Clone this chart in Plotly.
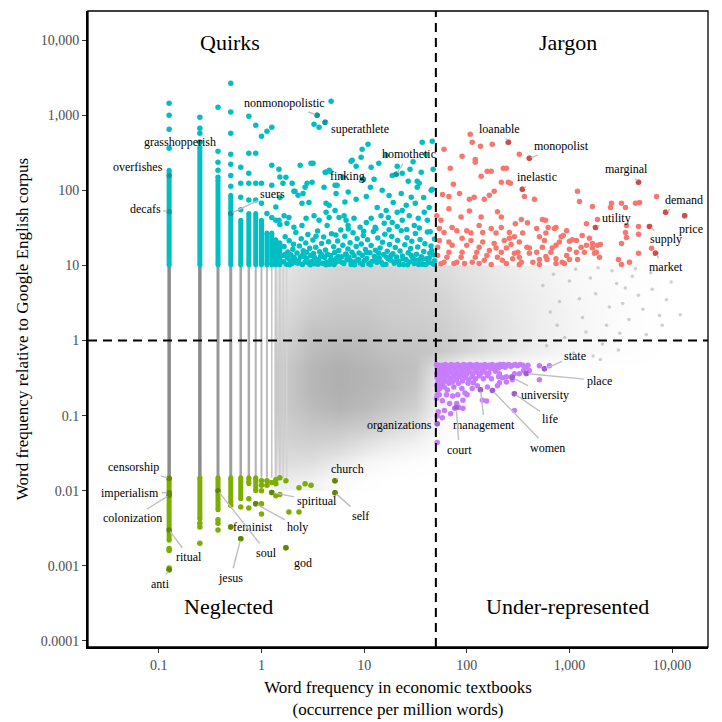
import numpy as np
import plotly.graph_objects as go

# ---------------- data ----------------
X_THRESH = 50        # textbook frequency threshold (per million words)
Y_HIGH = 10          # relative frequency thresholds
Y_MID = 1
Y_LOW_GREEN = 0.0149

# discrete low-count columns (occurrence per million words)
COLUMN_X = [0.126, 0.251, 0.377, 0.502, 0.628, 0.753, 0.879, 1.0, 1.13, 1.26, 1.38, 1.51, 1.63, 1.76]

# cyan (Quirks) continuous column segments: top of each segment
QUIRKS_COL_X = [0.126, 0.251, 0.377, 0.502, 0.628, 0.753, 0.879, 1.0, 1.13, 1.26, 1.38, 1.51]
QUIRKS_COL_TOP = [185, 374, 136, 86, 40, 49, 49, 40, 27, 27, 22, 20]

# green (Neglected) continuous column segments: bottom of each segment
NEGLECT_COL_X = [0.126, 0.251, 0.377, 0.502, 0.628, 0.753, 0.879]
NEGLECT_COL_BOTTOM = [0.0022, 0.0042, 0.0056, 0.0069, 0.0078, 0.0124, 0.010]

QUIRKS_PTS = [
    (0.126, 363), (0.126, 650), (0.126, 1000), (0.126, 1445),
    (0.251, 437), (0.251, 575), (0.251, 670), (0.251, 940),
    (0.377, 149), (0.377, 185), (0.377, 236), (0.377, 331), (0.377, 1280),
    (0.502, 113), (0.502, 158), (0.502, 222), (0.502, 302), (0.502, 575), (0.502, 1100), (0.502, 2670),
    (0.628, 55), (0.628, 81), (0.628, 124), (0.628, 203),
    (0.753, 74), (0.753, 124), (0.753, 169), (0.753, 311), (0.753, 970),
    (0.879, 74), (0.879, 124), (0.879, 311), (0.879, 736),
    (1.0, 67), (1.0, 124), (1.0, 525), (1.13, 49), (1.13, 612),
    (1.26, 117), (1.26, 215), (1.26, 690), (1.38, 40), (1.38, 60),
    (1.51, 35), (1.51, 80), (1.51, 150),
    (4.77, 1538), (3.25, 759), (3.64, 692), (3.48, 1000), (4.17, 807), (10.9, 410), (9.56, 352),
    (36.8, 437), (46.1, 450), (16.4, 293), (7.47, 244), (8.36, 209), (11.7, 203), (36.0, 174),
    (32.9, 132), (46.1, 103), (2.38, 215), (3.04, 229), (3.18, 229), (1.48, 191), (4.17, 174),
    (4.66, 179), (5.45, 117), (1.73, 149), (1.62, 124), (1.99, 124), (2.12, 97), (21.0, 209),
    (18.8, 158), (23.5, 169), (9.35, 275), (20.5, 163), (9.8, 140),
    (2.78, 124), (3.11, 128), (2.66, 110), (2.07, 97), (2.27, 86), (2.54, 91), (2.48, 67),
    (2.9, 69), (4.26, 174), (4.56, 185), (4.07, 110), (5.21, 117), (5.33, 91), (4.26, 67),
    (4.56, 63), (7.64, 251), (8.36, 76), (10.5, 83), (15, 100), (19.2, 69), (23, 91),
    (26.9, 132), (34.4, 124), (32.9, 110), (28.8, 81), (31.5, 67), (45, 100), (43, 59),
    (11.5, 110), (13.4, 59), (16.4, 54), (23.5, 54), (25.7, 63),
    (13.9, 230), (6.2, 150), (7.0, 95), (12.5, 140), (40, 300), (28, 190), (17.5, 85),
    (6.5, 70), (38, 80), (47, 190), (30, 240),
    (1.26, 43.6), (1.48, 40), (1.66, 46), (1.85, 43.6), (1.77, 36.3), (2.07, 32.1), (2.48, 34.1),
    (2.72, 42.4), (3.25, 46), (3.64, 40), (4.26, 51), (4.56, 43.6), (4.36, 34.1), (5.21, 54),
    (5.7, 43.6), (6.38, 46), (6.67, 40), (6.98, 34.1), (7.97, 42.4), (9.14, 32.1), (10.5, 37.4),
    (11.7, 42.4), (12.8, 32.1), (14.6, 46), (15.7, 36.3), (17.2, 43.6), (18.8, 37.4), (21, 51),
    (23.5, 40), (27.5, 46), (30.8, 34.1), (33.7, 42.4), (38.5, 51), (41.3, 40),
    (1.64, 11.2), (1.64, 13.5), (1.66, 17.8), (1.7, 24), (1.75, 10.4), (1.79, 12.6), (1.81, 15.1),
    (1.86, 21.3), (1.9, 11.7), (1.93, 13.9), (1.98, 10.6), (2.02, 16.4), (2.05, 19.2), (2.1, 12.2),
    (2.16, 27.5), (2.18, 10.9), (2.22, 14.6), (2.3, 11.5), (2.34, 18.1), (2.39, 12.9), (2.44, 22.6),
    (2.5, 10.3), (2.55, 15.7), (2.61, 13.1), (2.66, 11.1), (2.7, 19.9), (2.77, 12.4), (2.83, 25.8),
    (2.88, 10.8), (2.95, 16.9), (3.02, 13.6), (3.08, 11.3), (3.17, 21.8), (3.22, 14.4), (3.29, 10.5),
    (3.38, 17.4), (3.45, 12.0), (3.52, 28.8), (3.6, 11.6), (3.68, 15.2), (3.77, 13.2), (3.85, 19.6),
    (3.93, 10.7), (4.03, 23.9), (4.11, 12.7), (4.2, 16.1), (4.3, 11.0), (4.41, 14.0), (4.5, 20.6),
    (4.6, 10.4), (4.72, 13.5), (4.81, 26.4), (4.93, 11.8), (5.05, 17.7), (5.16, 14.9), (5.28, 10.9),
    (5.4, 12.5), (5.52, 21.1), (5.66, 15.8), (5.79, 11.4), (5.93, 29.5), (6.06, 13.0), (6.2, 18.6),
    (6.35, 10.6), (6.49, 24.5), (6.62, 14.2), (6.8, 11.9), (6.95, 16.6), (7.11, 12.8), (7.3, 20.0),
    (7.46, 10.3), (7.62, 15.0), (7.8, 27.2), (7.98, 13.4), (8.15, 11.2), (8.37, 17.9), (8.55, 22.7),
    (8.72, 12.1), (8.93, 14.6), (9.15, 10.8), (9.38, 19.3), (9.6, 13.7), (9.82, 25.1), (10.1, 11.6),
    (10.3, 16.3), (10.6, 12.4), (10.8, 21.9), (11.1, 10.5), (11.4, 14.8), (11.7, 18.4), (11.9, 11.3),
    (12.3, 28.2), (12.6, 13.2), (12.9, 15.9), (13.3, 10.9), (13.6, 23.1), (14.0, 12.6), (14.3, 17.1),
    (14.7, 11.0), (15.1, 20.4), (15.5, 13.9), (15.9, 26.0), (16.3, 10.4), (16.8, 15.4), (17.2, 12.2),
    (17.7, 19.0), (18.1, 11.7), (18.6, 24.2), (19.1, 14.3), (19.6, 10.7), (20.1, 17.3), (20.7, 12.9),
    (21.2, 21.5), (21.8, 11.4), (22.4, 15.6), (23.0, 29.0), (23.6, 13.3), (24.2, 10.3), (24.9, 18.8),
    (25.5, 12.0), (26.2, 23.3), (26.9, 14.7), (27.6, 11.1), (28.4, 16.8), (29.1, 20.9), (29.9, 12.5),
    (30.7, 10.6), (31.6, 26.7), (32.4, 14.1), (33.3, 17.6), (34.2, 11.8), (35.1, 22.1), (36.1, 13.0),
    (37.1, 10.4), (38.1, 15.3), (39.1, 19.5), (40.2, 12.3), (41.3, 27.9), (42.4, 11.0), (43.6, 14.5),
    (44.8, 18.2), (46.0, 10.8), (47.2, 13.8), (48.4, 22.4), (48.6, 11.5),
    (1.72, 14.2), (1.88, 10.2), (2.07, 12.8), (2.27, 10.7), (2.52, 13.8), (2.74, 15.0), (2.99, 10.2),
    (3.26, 12.9), (3.55, 10.4), (3.88, 13.9), (4.25, 10.2), (4.66, 11.6), (5.1, 10.3), (5.58, 13.1),
    (6.1, 10.9), (6.7, 13.7), (7.35, 11.5), (8.05, 10.2), (8.85, 11.9), (9.7, 10.3), (10.6, 14.9),
    (11.6, 10.2), (12.7, 11.7), (13.9, 14.5), (15.3, 10.3), (16.6, 12.8), (18.3, 13.6), (19.9, 11.2),
    (22.0, 10.3), (24.0, 12.3), (26.5, 10.2), (28.8, 13.5), (31.2, 11.8), (34.0, 10.3), (36.8, 12.1),
    (40.0, 10.3), (43.0, 12.6), (45.5, 15.8), (47.8, 10.4), (3.4, 24.5), (5.3, 25.5), (7.0, 30.5),
    (9.9, 28.4), (13.0, 31.0), (17.5, 29.8), (21.0, 33.0), (26.0, 30.0), (34.5, 31.6), (44.0, 28.0),
]

JARGON_PTS = [
    (108, 558), (113, 437), (136, 386), (177, 410), (60, 352), (90, 284), (121, 257), (121, 236),
    (325, 302), (254, 437), (407, 267), (69, 197), (158, 179), (173, 179), (227, 197), (243, 197),
    (138, 154), (217, 128), (254, 128), (266, 124), (74, 120), (348, 103), (185, 97), (58, 88),
    (67, 83), (85, 91), (106, 76), (118, 81), (148, 76), (166, 86), (364, 83), (456, 76),
    (1197, 97), (1254, 71), (2570, 67), (3215, 67), (4400, 67), (7060, 83), (4820, 69), (4710, 128),
    (1675, 61), (2510, 59), (3515, 59), (1465, 36), (1875, 41), (3600, 34), (4710, 33), (3515, 27.5),
    (3600, 23.6), (4710, 25.9), (3215, 19.6), (4710, 14.5), (3000, 12), (3845, 11), (3215, 10.3),
    (6310, 16.9), (6900, 14.5), (6030, 33), (8650, 51), (13250, 46), (1795, 32),
    (67, 57), (106, 53), (88, 44), (138, 44), (199, 52), (217, 44), (297, 36), (340, 41), (390, 37),
    (545, 41), (585, 40), (480, 31), (620, 32), (740, 32), (870, 25), (1070, 22), (1330, 25),
    (1567, 23), (1675, 19.6), (1875, 18.5), (2000, 19), (1675, 17), (1754, 14.5), (1465, 18.5),
    (1400, 15), (1170, 15), (1200, 12), (1000, 16.4), (940, 13.6), (850, 11), (740, 18.5), (680, 17),
    (660, 15), (590, 13.1), (740, 12.3), (545, 17.5), (480, 15), (510, 12), (407, 17), (385, 17.5),
    (407, 14.5), (440, 11), (315, 15), (325, 12.8), (291, 14.5), (340, 11), (270, 19), (243, 17),
    (217, 15), (222, 11.7), (199, 12.8), (185, 19.6), (166, 15.8), (157, 13.6), (148, 11.7),
    (132, 17.5), (125, 15), (121, 12.8), (113, 11), (110, 21.5), (100, 18.5), (90, 15), (88, 12.8),
    (80, 11), (72, 18.5), (67, 15), (64, 12.8), (60, 11), (54, 21.5), (52, 17.5), (52, 13.6), (56, 10.5),
    (51, 46), (56, 40), (54, 31), (60, 27.5), (72, 32), (80, 29), (100, 29), (110, 27), (132, 34),
    (143, 27.5), (173, 31), (193, 27), (217, 32), (260, 27.5), (291, 24), (350, 27), (510, 24),
    (590, 27), (714, 31), (830, 24), (940, 29), (260, 23), (143, 20.5), (232, 21.5), (325, 20.5),
    (571, 21.5), (798, 20.5), (1000, 21), (1170, 21.5), (1300, 17.5), (1830, 15), (1963, 12.8),
    (67, 20.5), (90, 23), (193, 17), (280, 12.3), (605, 12), (1000, 12), (740, 10.6), (243, 10.6),
    (132, 10.6), (75, 10.6), (95, 10.6), (173, 10.3), (325, 10.3), (510, 10.3), (893, 10.6),
]

UNDER_PTS = [
    (510, 0.46), (571, 0.42), (638, 0.46), (510, 0.30), (407, 0.40), (325, 0.36), (357, 0.40),
    (291, 0.36), (273, 0.33), (243, 0.33), (278, 0.30), (208, 0.36), (199, 0.25), (223, 0.32),
    (174, 0.31), (178, 0.216), (159, 0.24), (142, 0.16), (156, 0.157), (136, 0.222), (127, 0.25),
    (116, 0.275), (113, 0.23), (103, 0.27), (96.2, 0.20), (89.7, 0.23), (91.8, 0.16), (83.7, 0.128),
    (79.9, 0.145), (91.8, 0.125), (76.3, 0.125), (79, 0.128), (69.6, 0.106), (60.6, 0.117),
    (57.8, 0.094), (52.7, 0.113), (51.5, 0.099), (51.5, 0.078), (51.5, 0.044), (68, 0.145),
    (57.8, 0.158), (54, 0.19), (63.5, 0.19), (72.9, 0.183), (81.8, 0.19), (100.8, 0.19),
    (291, 0.196), (291, 0.117), (208, 0.275), (243, 0.28), (204, 0.33), (380, 0.363), (278, 0.321),
    (50.8, 0.48), (51.6, 0.44), (52.1, 0.40), (50.9, 0.36), (51.3, 0.32), (52.4, 0.28), (51.0, 0.25),
    (52.0, 0.22), (51.5, 0.19), (50.7, 0.17), (53.6, 0.47), (54.9, 0.42), (54.2, 0.37), (55.5, 0.33),
    (53.8, 0.29), (56.1, 0.26), (54.5, 0.23), (57.3, 0.47), (58.6, 0.41), (57.9, 0.35), (59.4, 0.31),
    (58.2, 0.27), (60.3, 0.24), (61.7, 0.48), (62.9, 0.43), (61.2, 0.38), (63.8, 0.34), (62.5, 0.29),
    (64.6, 0.22), (66.2, 0.46), (67.5, 0.40), (65.9, 0.36), (68.8, 0.31), (67.1, 0.27), (70.4, 0.48),
    (71.8, 0.44), (70.9, 0.38), (73.5, 0.33), (72.2, 0.28), (74.8, 0.24), (76.6, 0.47), (77.9, 0.41),
    (75.8, 0.35), (79.2, 0.30), (81.5, 0.48), (83.1, 0.43), (80.6, 0.37), (84.7, 0.33), (82.9, 0.27),
    (86.8, 0.46), (88.4, 0.40), (87.1, 0.34), (90.6, 0.29), (92.9, 0.48), (94.5, 0.43), (93.2, 0.37),
    (96.8, 0.32), (99.5, 0.47), (101.9, 0.41), (98.8, 0.35), (104.6, 0.30), (107.3, 0.48),
    (109.8, 0.44), (106.5, 0.38), (112.4, 0.33), (115.8, 0.47), (118.9, 0.42), (114.7, 0.36),
    (121.5, 0.31), (125.2, 0.48), (128.6, 0.43), (124.1, 0.38), (132.3, 0.34), (136.7, 0.47),
    (140.2, 0.41), (135.4, 0.36), (145.1, 0.31), (149.6, 0.48), (154.3, 0.44), (148.2, 0.38),
    (159.7, 0.34), (165.4, 0.47), (170.8, 0.42), (163.9, 0.37), (177.2, 0.48), (183.5, 0.44),
    (189.9, 0.39), (196.4, 0.47), (203.7, 0.43), (211.5, 0.48), (219.6, 0.45), (228.3, 0.48),
    (236.9, 0.44), (246.2, 0.47), (256.8, 0.48), (268.4, 0.45), (282.1, 0.47), (296.7, 0.48),
    (312.5, 0.46), (331.0, 0.48), (352.0, 0.47), (374.0, 0.44), (395.0, 0.47),
]

NEGLECT_PTS = [
    (0.126, 0.0017), (0.126, 0.0016), (0.126, 0.00094), (0.126, 0.00089),
    (0.251, 0.0037), (0.251, 0.0033), (0.251, 0.002),
    (0.377, 0.0041), (0.377, 0.0037), (0.377, 0.003),
    (0.502, 0.0064), (0.502, 0.0033), (0.628, 0.0061), (0.628, 0.0023),
    (0.753, 0.0078), (0.753, 0.0059), (0.879, 0.0067),
    (1.0, 0.0136), (1.0, 0.0118), (1.0, 0.010), (1.0, 0.0067), (1.0, 0.0049),
    (1.13, 0.0136), (1.13, 0.0118), (1.26, 0.0129), (1.26, 0.0095),
    (1.38, 0.014), (1.38, 0.0124), (1.38, 0.0086), (1.51, 0.0149), (1.51, 0.0089),
    (1.73, 0.0136), (1.73, 0.00174), (1.85, 0.0052), (2.32, 0.011), (2.32, 0.0052),
    (2.66, 0.0124), (3.04, 0.0118), (5.2, 0.0136), (5.2, 0.0094),
]

# sparse individual background words (visible as separate dots on the right)
OTHER_PTS = [
    (2880, 5.75), (7550, 2.15), (1340, 2.03), (1800, 4.2), (2300, 1.6), (3300, 3.1), (4100, 7.2),
    (5200, 2.6), (6400, 4.8), (2600, 8.5), (1600, 6.8), (1150, 8.9), (1450, 1.3), (3800, 1.9),
    (4700, 4.0), (3000, 0.75), (2100, 0.9), (1700, 0.62), (5600, 1.2), (8800, 3.5), (9800, 6.0),
    (1250, 3.6), (2450, 2.8), (3500, 5.0), (900, 1.1), (1000, 6.2), (800, 3.3), (700, 7.6),
    (650, 2.4), (1100, 0.68), (600, 0.85), (550, 5.4), (760, 1.6), (1900, 9.3), (4400, 9.0),
    (6200, 8.0), (2000, 0.56), (3100, 1.25), (8000, 1.6), (12000, 2.2),
]

# labelled words
LABEL_WORDS = ["nonmonopolistic", "superathlete", "homothetic", "finking", "suers", "overfishes",
               "decafs", "grasshopperish",
               "loanable", "monopolist", "inelastic", "marginal", "demand", "price", "supply",
               "market", "utility",
               "state", "place", "university", "life", "women", "management", "court", "organizations",
               "censorship", "imperialism", "colonization", "ritual", "anti", "feminist", "jesus",
               "soul", "holy", "spiritual", "god", "church", "self"]
LABEL_X = [3.48, 4.17, 20.5, 9.8, 0.502, 0.126, 0.126, 0.251,
           254, 407, 348, 4710, 8650, 13250, 6030, 6900, 1795,
           571, 380, 278, 291, 178, 136, 79, 51.5,
           0.126, 0.126, 0.126, 0.126, 0.126, 0.502, 0.628, 0.377, 0.879, 1.26, 1.73, 5.2, 5.2]
LABEL_Y = [1000, 807, 163, 140, 49, 158, 52, 437,
           437, 267, 103, 128, 51, 46, 33, 14.5, 32,
           0.42, 0.363, 0.321, 0.196, 0.216, 0.222, 0.128, 0.078,
           0.0146, 0.0094, 0.0087, 0.003, 0.00089, 0.0033, 0.0023, 0.010, 0.0067, 0.0095,
           0.00174, 0.0136, 0.0094]
LABEL_GROUP = ["q"] * 8 + ["j"] * 9 + ["u"] * 8 + ["n"] * 13

# background cloud of all other words: density estimate on a log10 grid
CLOUD_LOGX = [0.25, 0.5, 0.75, 1.0, 1.25, 1.5, 1.75, 2.0, 2.25, 2.5, 2.75, 3.0, 3.25, 3.5, 3.75, 4.0]
CLOUD_LOGY = [-1.875, -1.625, -1.375, -1.125, -0.875, -0.625, -0.375, -0.125, 0.125, 0.375, 0.625, 0.875]
CLOUD_DENSITY = [
    [1.5, 1.2, 0.4, 0.1, 0, 0, 0, 0, 0, 0, 0, 0, 0, 0, 0, 0],
    [3.0, 2.8, 1.8, 0.8, 0.4, 0.2, 0, 0, 0, 0, 0, 0, 0, 0, 0, 0],
    [4.0, 4.2, 3.8, 2.8, 1.8, 1.2, 0.2, 0, 0, 0, 0, 0, 0, 0, 0, 0],
    [4.5, 5.2, 5.3, 4.8, 3.8, 2.8, 0.4, 0, 0, 0, 0, 0, 0, 0, 0, 0],
    [5.0, 6.2, 6.8, 6.3, 5.3, 4.3, 0.8, 0, 0, 0, 0, 0, 0, 0, 0, 0],
    [5.0, 6.6, 7.2, 6.8, 6.2, 5.2, 1.2, 0, 0, 0, 0, 0, 0, 0, 0, 0],
    [5.0, 6.6, 7.2, 6.8, 6.2, 5.6, 2.0, 0.3, 0, 0, 0, 0, 0, 0, 0, 0],
    [4.5, 6.0, 6.5, 6.2, 5.6, 5.4, 5.0, 3.8, 2.8, 2.0, 1.3, 0.8, 0.5, 0.2, 0.1, 0],
    [4.0, 5.5, 5.6, 5.6, 5.0, 4.8, 4.5, 3.8, 2.8, 2.2, 1.5, 1.0, 0.6, 0.3, 0.1, 0],
    [3.5, 4.6, 5.0, 5.0, 4.6, 4.4, 4.2, 3.4, 2.7, 2.0, 1.5, 1.0, 0.6, 0.3, 0.1, 0],
    [3.0, 4.0, 4.5, 4.5, 4.4, 4.2, 3.8, 3.0, 2.4, 1.9, 1.4, 0.8, 0.5, 0.3, 0.1, 0],
    [2.6, 3.5, 4.0, 4.0, 4.0, 3.8, 3.3, 2.6, 2.1, 1.6, 1.2, 0.7, 0.4, 0.2, 0.1, 0],
]

X_TICKS = [0.1, 1, 10, 100, 1000, 10000]
X_TICK_TEXT = ["0.1", "1", "10", "100", "1,000", "10,000"]
Y_TICKS = [0.0001, 0.001, 0.01, 0.1, 1, 10, 100, 1000, 10000]
Y_TICK_TEXT = ["0.0001", "0.001", "0.01", "0.1", "1", "10", "100", "1,000", "10,000"]

# ---------------- styles ----------------
FONT = "Liberation Serif"
X_RANGE = [-1.69, 4.35]
Y_RANGE = [-4.08, 4.387]
C_Q, C_J, C_U, C_N = "#00BFC4", "#F8766D", "#C77CFF", "#7CAE00"
C_DARK = {"q": "#0a9a9e", "j": "#c9504a", "u": "#9c5fcc", "n": "#5d8800"}
COL_WIDTHS = [3.5, 3.5, 3, 3, 2.5, 2.5, 2, 2, 2, 1.5, 1.5, 1.5, 1.5, 1.5]
COL_COLORS = ["#8a8a8a", "#8c8c8c", "#979797", "#9d9d9d", "#a6a6a6", "#acacac", "#b3b3b3",
              "#b8b8b8", "#bdbdbd", "#c3c3c3", "#c7c7c7", "#cbcbcb", "#cfcfcf", "#d3d3d3"]
LABEL_DX = [-33, 35, 13, -16, 42, -31, -24, -20,
            -9, 32, 15, -12, 18, 6, 16, 10, 21,
            31, 73, 33, 36, 55, 4, 3, -38,
            -36, -39, -37, 20, -9, 22, -10, 49, 42, 45, 17, 13, 26]
LABEL_DY = [-12, 7, -20, -3, -20, -8, -3, 0,
            -13, -12, -12, -13, -12, 13, 13, 14, -9,
            -13, 7, 17, 25, 57, 35, 42, 1,
            -11, 0, 23, 27, 14, 0, 39, 62, 23, 9, 15, -12, 23]
MS = 5.5

fig = go.Figure()

# background density cloud (on hidden linear log10 axes)
fig.add_trace(go.Heatmap(
    x=CLOUD_LOGX, y=CLOUD_LOGY, z=CLOUD_DENSITY, zmin=0, zmax=10, zsmooth="best",
    colorscale=[[0, "rgb(255,255,255)"], [1, "rgb(145,145,145)"]],
    showscale=False, hoverinfo="skip", xaxis="x", yaxis="y"))

# sparse separate background dots
fig.add_trace(go.Scatter(x=[p[0] for p in OTHER_PTS], y=[p[1] for p in OTHER_PTS], mode="markers",
                         marker=dict(size=3.5, color="rgba(150,150,150,0.45)", line=dict(width=0)),
                         hoverinfo="skip", showlegend=False, xaxis="x2", yaxis="y2"))

# gray discrete columns
for i, cx in enumerate(COLUMN_X):
    fig.add_trace(go.Scatter(x=[cx, cx], y=[Y_LOW_GREEN, Y_HIGH], mode="lines",
                             line=dict(color=COL_COLORS[i], width=COL_WIDTHS[i]),
                             hoverinfo="skip", showlegend=False, xaxis="x2", yaxis="y2"))

# cyan column segments
for cx, top in zip(QUIRKS_COL_X, QUIRKS_COL_TOP):
    fig.add_trace(go.Scatter(x=[cx, cx], y=[Y_HIGH * 1.02, top], mode="lines+markers",
                             line=dict(color=C_Q, width=5), marker=dict(size=5, color=C_Q),
                             hoverinfo="skip", showlegend=False, xaxis="x2", yaxis="y2"))
# green column segments
for cx, bot in zip(NEGLECT_COL_X, NEGLECT_COL_BOTTOM):
    fig.add_trace(go.Scatter(x=[cx, cx], y=[Y_LOW_GREEN, bot], mode="lines+markers",
                             line=dict(color=C_N, width=5), marker=dict(size=5, color=C_N),
                             hoverinfo="skip", showlegend=False, xaxis="x2", yaxis="y2"))


def add_pts(pts, color):
    fig.add_trace(go.Scatter(x=[p[0] for p in pts], y=[p[1] for p in pts], mode="markers",
                             marker=dict(size=MS, color=color, line=dict(width=0)),
                             hoverinfo="skip", showlegend=False, xaxis="x2", yaxis="y2"))


add_pts(QUIRKS_PTS, C_Q)
add_pts(JARGON_PTS, C_J)
add_pts(UNDER_PTS, C_U)
add_pts(NEGLECT_PTS, C_N)

# labelled points (darker)
fig.add_trace(go.Scatter(x=LABEL_X, y=LABEL_Y, mode="markers",
                         marker=dict(size=MS, color=[C_DARK[g] for g in LABEL_GROUP], line=dict(width=0)),
                         hoverinfo="skip", showlegend=False, xaxis="x2", yaxis="y2"))

# dashed threshold lines
fig.add_trace(go.Scatter(x=[X_THRESH, X_THRESH], y=[10 ** Y_RANGE[0], 10 ** Y_RANGE[1]], mode="lines",
                         line=dict(color="black", width=2, dash="9px,6px"),
                         hoverinfo="skip", showlegend=False, xaxis="x2", yaxis="y2"))
fig.add_trace(go.Scatter(x=[10 ** X_RANGE[0], 10 ** X_RANGE[1]], y=[Y_MID, Y_MID], mode="lines",
                         line=dict(color="black", width=2, dash="9px,6px"),
                         hoverinfo="skip", showlegend=False, xaxis="x2", yaxis="y2"))

annotations = []
for w, x, y, dx, dy in zip(LABEL_WORDS, LABEL_X, LABEL_Y, LABEL_DX, LABEL_DY):
    annotations.append(dict(x=np.log10(x), y=np.log10(y), xref="x2", yref="y2", text=w,
                            showarrow=True, arrowhead=0, arrowwidth=1.4, arrowcolor="#bfbfbf",
                            ax=dx, ay=dy, standoff=2, startstandoff=1,
                            font=dict(family=FONT, size=12, color="black")))

for txt, px, py in [("Quirks", 0.229, 0.95), ("Jargon", 0.774, 0.95),
                    ("Neglected", 0.226, 0.064), ("Under-represented", 0.774, 0.064)]:
    annotations.append(dict(x=px, y=py, xref="paper", yref="paper", text=txt, showarrow=False,
                            xanchor="center", yanchor="middle",
                            font=dict(family=FONT, size=22, color="black")))

fig.update_layout(
    width=722, height=722,
    margin=dict(l=88, r=14, t=11, b=75),
    paper_bgcolor="white", plot_bgcolor="white",
    font=dict(family=FONT, color="black"),
    showlegend=False,
    xaxis=dict(range=X_RANGE, visible=False, fixedrange=True, automargin=False),
    yaxis=dict(range=Y_RANGE, visible=False, fixedrange=True, automargin=False),
    xaxis2=dict(type="log", range=X_RANGE, overlaying="x", anchor="y2", side="bottom", automargin=False,
                tickvals=X_TICKS, ticktext=X_TICK_TEXT, ticks="outside", ticklen=4, tickwidth=1.2,
                tickcolor="#333", showline=True, linewidth=2, linecolor="black", showgrid=False,
                zeroline=False, tickfont=dict(family=FONT, size=14, color="#4d4d4d"),
                title=dict(text="Word frequency in economic textbooks<br>(occurrence per million words)",
                           font=dict(family=FONT, size=17, color="black"), standoff=9)),
    yaxis2=dict(type="log", range=Y_RANGE, overlaying="y", anchor="x2", side="left", automargin=False,
                tickvals=Y_TICKS, ticktext=Y_TICK_TEXT, ticks="outside", ticklen=4, tickwidth=1.2,
                tickcolor="#333", showline=True, linewidth=2, linecolor="black", showgrid=False,
                zeroline=False, tickfont=dict(family=FONT, size=14, color="#4d4d4d"),
                title=dict(text="Word frequency relative to Google English corpus",
                           font=dict(family=FONT, size=17, color="black"), standoff=8)),
    shapes=[dict(type="rect", xref="paper", yref="paper", x0=0, x1=1, y0=0, y1=1,
                 line=dict(color="black", width=1.3), layer="above")],
    annotations=annotations,
)

fig.write_html("out.html", config={"displayModeBar": False},
               post_script="document.body.style.margin='0';")
